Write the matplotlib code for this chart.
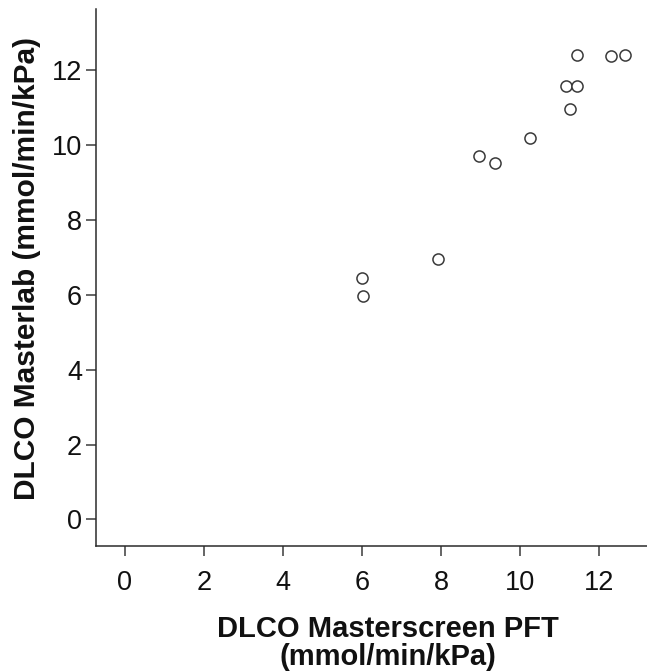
import matplotlib
matplotlib.use("Agg")
import matplotlib.pyplot as plt

# DLCO measured on the two devices (mmol/min/kPa)
masterscreen = [11.44, 12.29, 12.65, 11.15, 11.44, 11.25, 10.25, 8.96, 9.36, 7.93, 6.01, 6.03]
masterlab = [12.40, 12.37, 12.41, 11.57, 11.57, 10.96, 10.19, 9.70, 9.51, 6.94, 6.44, 5.97]

x_ticks = [0, 2, 4, 6, 8, 10, 12]
y_ticks = [0, 2, 4, 6, 8, 10, 12]

plt.rcParams['font.family'] = ['Liberation Sans', 'DejaVu Sans']

fig = plt.figure(figsize=(6.47, 6.71), dpi=100)
ax = fig.add_axes([96 / 647, 1 - 546 / 671, 1 - 96 / 647, (546 - 9.3) / 671])

ax.scatter(masterscreen, masterlab, s=64, facecolors='white',
           edgecolors='#3a3a3a', linewidths=1.1, zorder=3)

ax.set_xlim(-0.73, 13.21)
ax.set_ylim(-0.71, 13.62)
ax.set_xticks(x_ticks)
ax.set_yticks(y_ticks)

for side in ['top', 'right']:
    ax.spines[side].set_visible(False)
for side in ['left', 'bottom']:
    ax.spines[side].set_color('#2b2b2b')
    ax.spines[side].set_linewidth(1.1)

ax.tick_params(axis='both', direction='out', length=7, width=1.1,
               color='#3a3a3a', labelsize=19.5, labelcolor='#111111')
ax.tick_params(axis='x', pad=10)
ax.tick_params(axis='y', pad=3)

ax.set_xlabel('DLCO Masterscreen PFT\n(mmol/min/kPa)', fontsize=21,
              fontweight='bold', linespacing=1.0, color='#111111')
ax.xaxis.set_label_coords((388 - 96) / 551, -0.128)
ax.set_ylabel('DLCO Masterlab (mmol/min/kPa)', fontsize=21.5,
              fontweight='bold', color='#111111')
ax.yaxis.set_label_coords(-0.10, (546 - 268) / 536.7)

fig.savefig('out.png', dpi=100)
